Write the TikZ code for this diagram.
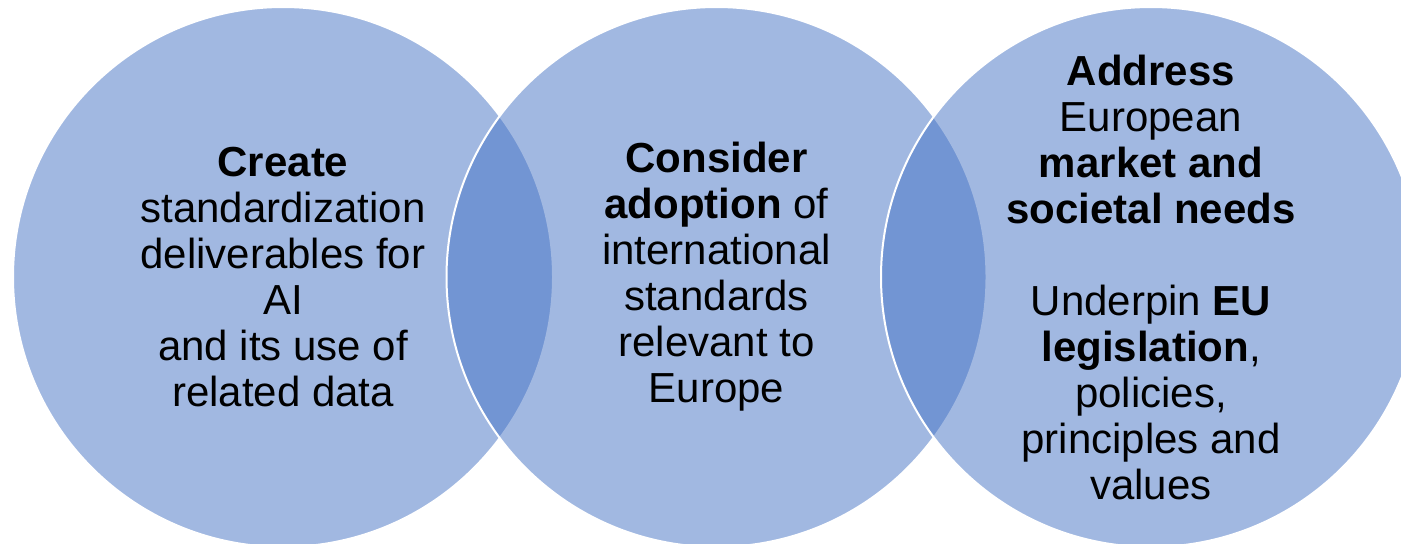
\documentclass[tikz,border=0pt]{standalone}
\usepackage{fontspec}
\setmainfont{Liberation Sans}
\usepackage{tikz}

\begin{document}
\begin{tikzpicture}[x=0.5pt, y=-0.5pt,
  every node/.style={outer sep=0pt},
  ring/.style={circle, minimum size=270pt, inner sep=0pt, fill={rgb,255:red,68;green,114;blue,196}, fill opacity=0.5, draw=white, draw opacity=1, line width=1pt},
  words/.style={align=center, font=\fontsize{21}{23}\selectfont, text=black}]
\useasboundingbox (0,0) rectangle (1401,543);
\begin{scope}
\clip (0,0) rectangle (1401,543);
\node[ring] (create) at (283,277) {};
\node[ring] (adopt) at (716.5,277) {};
\node[ring] (address) at (1151,277) {};
\end{scope}

\node[words] (createtext) at (create.center) {\textbf{Create}\\ standardization\\ deliverables for\\ AI\\ and its use of\\ related data};
\node[words] (adopttext) at (adopt.center) {\textbf{Consider}\\ \textbf{adoption} of\\ international\\ standards\\ relevant to\\ Europe};
\node[words] (addresstext) at (address.center) {\textbf{Address}\\ European\\ \textbf{market and}\\ \textbf{societal needs}\\[23pt] Underpin \textbf{EU}\\ \textbf{legislation},\\ policies,\\ principles and\\ values};
\end{tikzpicture}
\end{document}
